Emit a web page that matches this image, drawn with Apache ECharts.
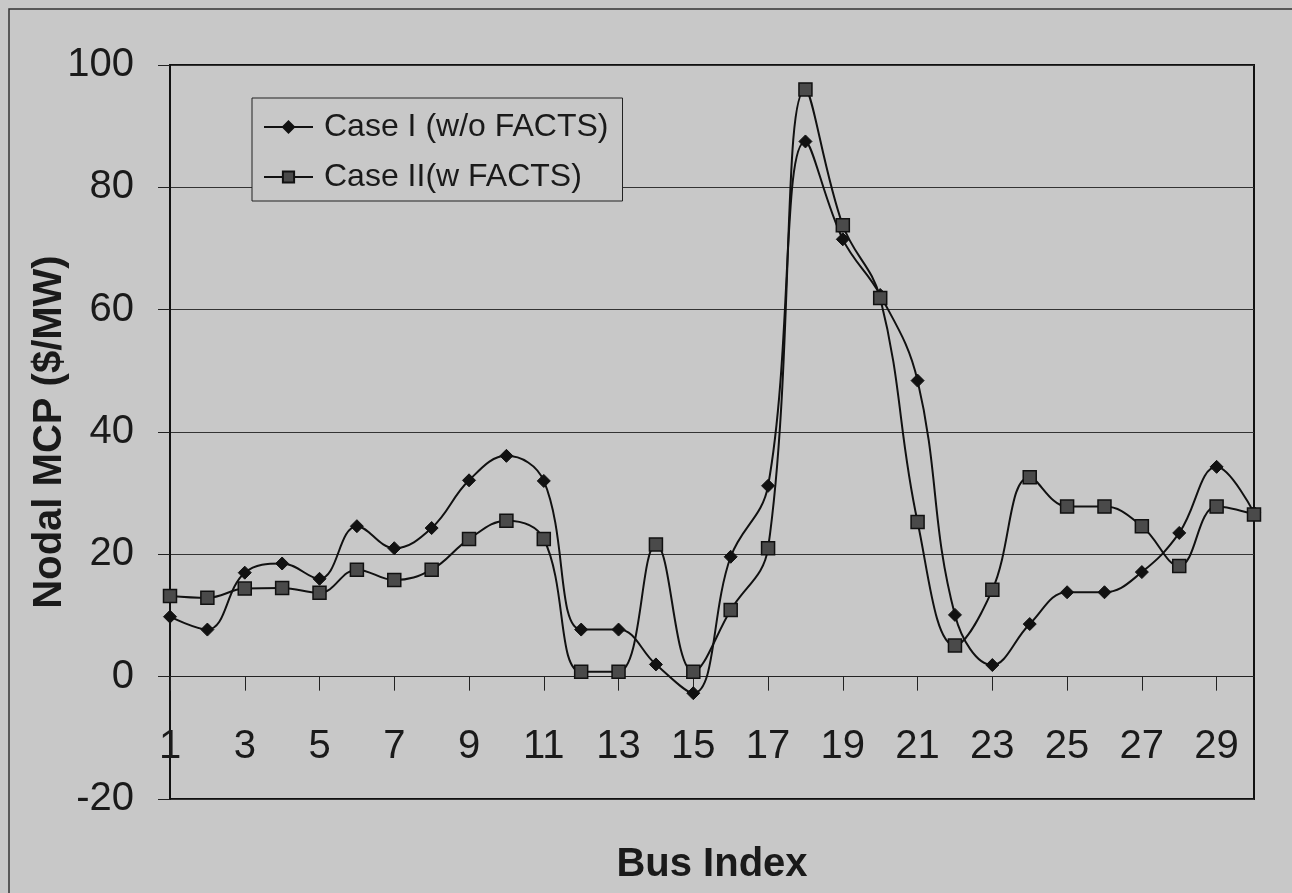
<!DOCTYPE html>
<html>
<head>
<meta charset="utf-8">
<script src="https://cdn.jsdelivr.net/npm/echarts@6/dist/echarts.min.js"></script>
<style>
  html, body { margin: 0; padding: 0; background: #c8c8c8; }
  #chart { width: 1292px; height: 893px; }
</style>
</head>
<body>
<div id="chart"></div>
<script>
// Bus numbers along the x axis
const buses = Array.from({ length: 30 }, (_, i) => String(i + 1));
// Nodal MCP ($/MW)
const caseI = [9.8, 7.7, 17.0, 18.5, 16.0, 24.6, 21.0, 24.3, 32.1, 36.1,
  32.0, 7.7, 7.7, 2.0, -2.7, 19.6, 31.2, 87.5, 71.5, 62.4,
  48.4, 10.1, 1.9, 8.6, 13.8, 13.8, 17.1, 23.5, 34.3, 26.8];
const caseII = [13.2, 12.9, 14.4, 14.5, 13.7, 17.5, 15.8, 17.5, 22.5, 25.5,
  22.5, 0.8, 0.8, 21.6, 0.8, 10.9, 21.0, 96.0, 73.8, 61.9,
  25.3, 5.1, 14.2, 32.6, 27.8, 27.8, 24.6, 18.1, 27.8, 26.5];

const font = 'Liberation Sans, Arial, sans-serif';
const ink = '#1a1a1a';

const chart = echarts.init(document.getElementById('chart'));

chart.setOption({
  animation: false,
  backgroundColor: '#c8c8c8',
  graphic: [
    {
      type: 'rect',
      shape: { x: 9, y: 9, width: 1400, height: 1000 },
      style: { fill: 'none', stroke: '#333', lineWidth: 1.5 },
      silent: true
    }
  ],
  grid: {
    left: 170,
    right: 38,
    top: 65,
    bottom: 94,
    outerBoundsMode: 'none',
    containLabel: false,
    show: true,
    backgroundColor: '#c8c8c8',
    borderColor: '#111',
    borderWidth: 2
  },
  legend: {
    orient: 'vertical',
    left: 252,
    top: 98,
    padding: [11, 14, 6, 11],
    itemGap: 14,
    itemWidth: 49,
    itemHeight: 14,
    backgroundColor: '#c8c8c8',
    borderColor: '#222',
    borderWidth: 1,
    textStyle: { fontFamily: font, fontSize: 32, lineHeight: 36, color: ink, padding: [0, 0, 0, 6] },
    data: ['Case I (w/o FACTS)', 'Case II(w FACTS)']
  },
  xAxis: {
    type: 'category',
    data: buses,
    boundaryGap: false,
    name: 'Bus Index',
    nameLocation: 'middle',
    nameGap: 46,
    nameMoveOverlap: false,
    nameTextStyle: { fontFamily: font, fontSize: 40, fontWeight: 'bold', color: ink },
    axisLine: { onZero: true, lineStyle: { color: '#222', width: 1 } },
    axisTick: { interval: 1, length: 14, lineStyle: { color: '#222', width: 1 } },
    axisLabel: { interval: 1, margin: -72, fontFamily: font, fontSize: 40, color: ink },
    splitLine: { show: false }
  },
  yAxis: {
    type: 'value',
    min: -20,
    max: 100,
    interval: 20,
    name: 'Nodal MCP ($/MW)',
    nameLocation: 'middle',
    nameGap: 100,
    nameMoveOverlap: false,
    nameTextStyle: { fontFamily: font, fontSize: 40, fontWeight: 'bold', color: ink },
    axisLine: { show: true, lineStyle: { color: '#111', width: 2 } },
    axisTick: { show: true, length: 12, lineStyle: { color: '#222', width: 1 } },
    axisLabel: { margin: 36, fontFamily: font, fontSize: 40, color: ink },
    splitLine: { lineStyle: { color: '#333', width: 1 } }
  },
  series: [
    {
      name: 'Case I (w/o FACTS)',
      type: 'line',
      data: caseI,
      smooth: 0.4,
      symbol: 'diamond',
      symbolSize: 13,
      lineStyle: { color: '#111', width: 2 },
      itemStyle: { color: '#111', borderColor: '#111', borderWidth: 1 }
    },
    {
      name: 'Case II(w FACTS)',
      type: 'line',
      data: caseII,
      smooth: 0.4,
      symbol: 'rect',
      symbolSize: 13,
      lineStyle: { color: '#111', width: 2 },
      itemStyle: { color: '#4a4a4a', borderColor: '#111', borderWidth: 1.5 }
    }
  ]
});
</script>
</body>
</html>
